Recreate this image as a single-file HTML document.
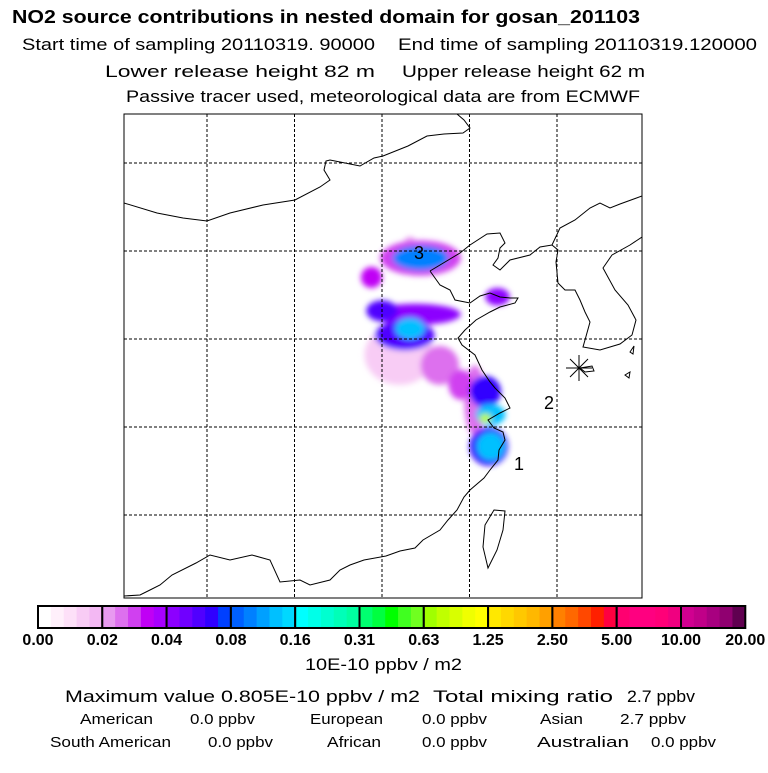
<!DOCTYPE html>
<html><head><meta charset="utf-8">
<style>
body{margin:0;background:#fff;width:768px;height:768px;overflow:hidden;font-family:"Liberation Sans",Arial,sans-serif;}
svg text{font-family:"Liberation Sans",Arial,sans-serif;}
</style></head>
<body>
<svg width="768" height="768" viewBox="0 0 768 768">
<defs>
<filter id="bl" x="-50%" y="-50%" width="200%" height="200%"><feGaussianBlur stdDeviation="3"/></filter>
<clipPath id="mapclip"><rect x="124" y="114" width="518" height="484"/></clipPath>
</defs>
<g lengthAdjust="spacingAndGlyphs">
<text x="12" y="23" font-size="18" font-weight="bold" textLength="628" lengthAdjust="spacingAndGlyphs">NO2 source contributions in nested domain for gosan_201103</text>
<text x="22" y="50" font-size="17" textLength="353" lengthAdjust="spacingAndGlyphs">Start time of sampling 20110319. 90000</text>
<text x="398" y="50" font-size="17" textLength="359" lengthAdjust="spacingAndGlyphs">End time of sampling 20110319.120000</text>
<text x="105" y="77" font-size="17" textLength="270" lengthAdjust="spacingAndGlyphs">Lower release height   82 m</text>
<text x="402" y="77" font-size="17" textLength="243" lengthAdjust="spacingAndGlyphs">Upper release height   62 m</text>
<text x="126" y="102" font-size="17" textLength="514" lengthAdjust="spacingAndGlyphs">Passive tracer used, meteorological data are from ECMWF</text>
</g>
<g id="map" clip-path="url(#mapclip)">
<g id="plume" filter="url(#bl)"></g>
<g id="grid"></g>
<path fill="none" stroke="#000" stroke-width="1"
d="M124,203 L157,213 L183,218 L207,221 L230,213 L263,205 L295,200 L320,187 L330,180 L324,170 L326,161 L330,160 L345,163 L360,166 L374,158 L383,156 L408,146 L427,136 L444,134 L463,133 L470,128 L464,120 L457,114
M430,271 L440,285 L450,290 L455,300 L470,303 L480,296 L490,293 L500,297 L510,298 L518,298 L515,303 L500,307 L490,312 L476,320 L465,330 L458,338 L462,345 L475,355 L482,370 L490,382 L495,388 L505,398 L510,408 L500,413 L488,420 L494,428 L503,432 L505,440 L499,450 L498,460 L490,470 L484,478 L470,490 L464,497 L457,510 L448,520 L440,530 L423,540 L415,548 L400,551 L386,556 L364,560 L350,565 L340,570 L330,580 L310,585 L300,580 L280,582 L270,560 L252,555 L230,560 L210,555 L196,563 L172,575 L160,585 L150,590 L140,595 L124,596
M430,271 L445,262 L460,253 L470,245 L487,234 L500,233 L505,243 L500,248 L498,258 L493,265 L500,270 L510,260 L530,255 L540,247 L552,245 L558,250 L556,262 L558,283 L565,290 L575,290 L580,300 L585,312 L590,322 L585,340 L583,347 L600,350 L620,344 L632,335 L636,320 L628,305 L615,290 L603,268 L612,255 L630,245 L642,237
M552,245 L560,228 L575,220 L590,208 L600,203 L610,208 L620,204 L642,196
M494,510 L505,511 L503,530 L497,550 L488,568 L483,547 L485,525 Z
M630,352 L634,346 L633,354 Z M625,375 L630,372 L629,378 Z M580,368 L592,366 L594,371 L585,372 Z"/>
</g>
<rect x="124" y="114" width="518" height="484" fill="none" stroke="#000" stroke-width="1"/>
<g stroke="#000" stroke-width="1">
<line x1="566" y1="368" x2="592" y2="368"/><line x1="579" y1="355" x2="579" y2="381"/>
<line x1="570" y1="359" x2="588" y2="377"/><line x1="588" y1="359" x2="570" y2="377"/>
</g>
<text x="414" y="259" font-size="18">3</text>
<text x="544" y="409" font-size="18">2</text>
<text x="514" y="470" font-size="18">1</text>
<g id="cbar"></g>
<text x="305" y="670" font-size="17" textLength="157" lengthAdjust="spacingAndGlyphs">10E-10 ppbv / m2</text>
<text x="65" y="702" font-size="17" textLength="355" lengthAdjust="spacingAndGlyphs">Maximum value  0.805E-10 ppbv / m2</text>
<text x="433" y="702" font-size="17" textLength="180" lengthAdjust="spacingAndGlyphs">Total mixing ratio</text>
<text x="627" y="702" font-size="17" textLength="68" lengthAdjust="spacingAndGlyphs">2.7 ppbv</text>
<g font-size="15">
<text x="80" y="724" textLength="73" lengthAdjust="spacingAndGlyphs">American</text><text x="190" y="724" textLength="65" lengthAdjust="spacingAndGlyphs">0.0 ppbv</text>
<text x="310" y="724" textLength="73" lengthAdjust="spacingAndGlyphs">European</text><text x="422" y="724" textLength="65" lengthAdjust="spacingAndGlyphs">0.0 ppbv</text>
<text x="540" y="724" textLength="43" lengthAdjust="spacingAndGlyphs">Asian</text><text x="620" y="724" textLength="66" lengthAdjust="spacingAndGlyphs">2.7 ppbv</text>
<text x="50" y="747" textLength="121" lengthAdjust="spacingAndGlyphs">South American</text><text x="208" y="747" textLength="65" lengthAdjust="spacingAndGlyphs">0.0 ppbv</text>
<text x="327" y="747" textLength="54" lengthAdjust="spacingAndGlyphs">African</text><text x="422" y="747" textLength="65" lengthAdjust="spacingAndGlyphs">0.0 ppbv</text>
<text x="537" y="747" textLength="92" lengthAdjust="spacingAndGlyphs">Australian</text><text x="651" y="747" textLength="65" lengthAdjust="spacingAndGlyphs">0.0 ppbv</text>
</g>
</svg>
<script>
const levels=[0,0.02,0.04,0.08,0.16,0.31,0.63,1.25,2.50,5.00,10.00,20.00];
const levelLabels=["0.00","0.02","0.04","0.08","0.16","0.31","0.63","1.25","2.50","5.00","10.00","20.00"];
const segColors=[
["#ffffff","#fff0fb","#fde0f8","#f8ccf5","#f3b8f3"],
["#e89af0","#dd70ee","#d040f0","#c000f5","#a800ff"],
["#8c00ff","#7000ff","#5000ff","#3000ff","#0040ff"],
["#0060ff","#0080ff","#00a0ff","#00c0ff","#00d8ff"],
["#00ffff","#00ffe8","#00ffd0","#00ffb8","#00ffa0"],
["#00ff70","#00ff40","#00ff00","#40ff20","#70ff20"],
["#a0ff00","#c0ff00","#d8ff00","#f0ff00","#ffff00"],
["#ffe800","#ffd800","#ffc800","#ffb800","#ffa000"],
["#ff8000","#ff6800","#ff4800","#ff2000","#ff0040"],
["#ff0070","#ff0080","#ff0080","#ff0078","#f00080"],
["#d00090","#c00088","#a80080","#900070","#600050"]];
// plume data: lon, lat, spread lon, spread lat, value (10E-10 ppbv/m2)
const plumeLon=[121.0,122.2,122.2,119.4,121.9,121.3,121.6,123.3,124.5,126.6,125.9,126.2,125.9,126.1,126.2,121.6,120.0,125.3];
const plumeLat=[34.1,39.6,39.6,38.5,36.4,35.2,35.6,33.5,32.4,37.4,32.0,30.7,30.5,28.9,28.9,40.3,36.6,31.5];
const plumeSpanLon=[2.0,2.3,1.6,0.6,2.6,1.7,0.85,1.1,0.7,0.7,0.9,0.85,0.35,1.1,0.8,0.4,0.9,0.6];
const plumeSpanLat=[1.7,1.0,0.7,0.6,0.6,0.85,0.6,1.1,0.85,0.5,0.9,0.6,0.25,1.1,0.8,0.5,0.6,2.0];
const plumeVal=[0.012,0.03,0.10,0.035,0.04,0.06,0.13,0.026,0.03,0.045,0.07,0.13,0.8,0.07,0.13,0.02,0.06,0.025];
const gridLon=[110,115,120,125,130];
const gridLat=[45,40,35,30,25];
function xOf(lon){return 207+(lon-110)*17.5;}
function yOf(lat){return 163+(45-lat)*17.6;}
function colorOf(v){
 for(let i=0;i<levels.length-1;i++){
  if(v<levels[i+1]){const f=(v-levels[i])/(levels[i+1]-levels[i]);return segColors[i][Math.min(4,Math.floor(f*5))];}
 }
 return segColors[10][4];
}
const NS="http://www.w3.org/2000/svg";
const plume=document.getElementById('plume');
const order=plumeVal.map((v,i)=>i).sort((a,b)=>plumeVal[a]-plumeVal[b]);
order.forEach(i=>{
 const e=document.createElementNS(NS,'ellipse');
 
 
 e.setAttribute('cx',xOf(plumeLon[i]));e.setAttribute('cy',yOf(plumeLat[i]));
 e.setAttribute('rx',plumeSpanLon[i]*17.5);e.setAttribute('ry',plumeSpanLat[i]*17.6);
 e.setAttribute('fill',colorOf(plumeVal[i]));
 plume.appendChild(e);
});
const grid=document.getElementById('grid');
gridLon.forEach(l=>{
 const ln=document.createElementNS(NS,'line');
 
 
 ln.setAttribute('x1',xOf(l));ln.setAttribute('x2',xOf(l));ln.setAttribute('y1',114);ln.setAttribute('y2',598);
 ln.setAttribute('stroke','#000');ln.setAttribute('stroke-dasharray','3,2');
 grid.appendChild(ln);
});
gridLat.forEach(l=>{
 const ln=document.createElementNS(NS,'line');
 
 
 ln.setAttribute('x1',124);ln.setAttribute('x2',642);ln.setAttribute('y1',yOf(l));ln.setAttribute('y2',yOf(l));
 ln.setAttribute('stroke','#000');ln.setAttribute('stroke-dasharray','3,2');
 grid.appendChild(ln);
});
const cb=document.getElementById('cbar');
const cx0=38,cw=64.3,cy=606,ch=22;
segColors.forEach((seg,i)=>{
 seg.forEach((c,j)=>{
  const r=document.createElementNS(NS,'rect');
  
  
  r.setAttribute('x',cx0+i*cw+j*cw/5);r.setAttribute('y',cy);r.setAttribute('width',cw/5+0.5);r.setAttribute('height',ch);r.setAttribute('fill',c);
  cb.appendChild(r);
 });
 const b=document.createElementNS(NS,'rect');
 
 
 b.setAttribute('x',cx0+i*cw);b.setAttribute('y',cy);b.setAttribute('width',cw);b.setAttribute('height',ch);
 b.setAttribute('fill','none');b.setAttribute('stroke','#000');b.setAttribute('stroke-width','2');
 cb.appendChild(b);
});
levelLabels.forEach((t,i)=>{
 const tx=document.createElementNS(NS,'text');
 
 
 tx.setAttribute('x',cx0+i*cw);tx.setAttribute('y',645);tx.setAttribute('text-anchor','middle');
 tx.setAttribute('font-size','16');tx.setAttribute('font-weight','bold');
 tx.textContent=t;cb.appendChild(tx);
});
</script>
</body></html>
